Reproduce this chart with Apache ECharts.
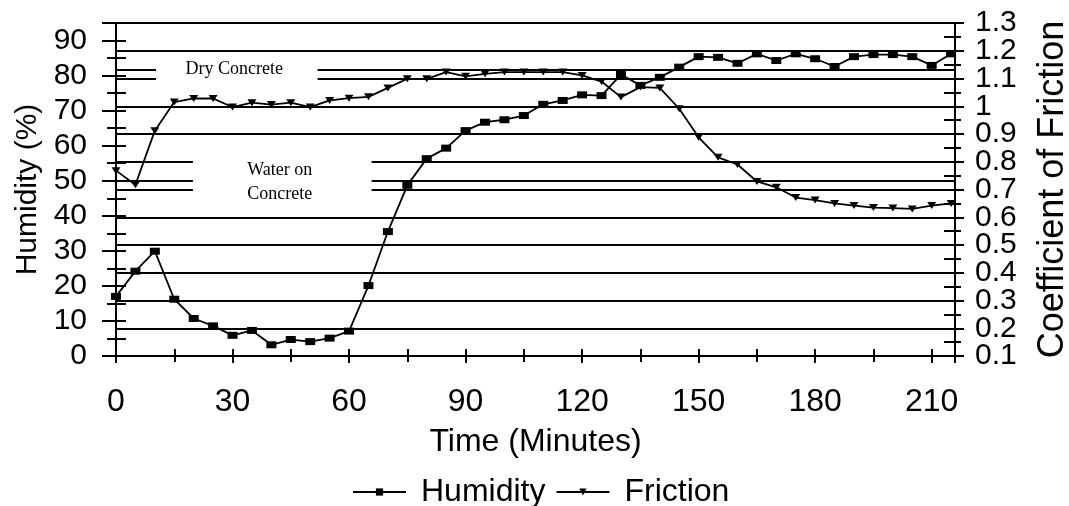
<!DOCTYPE html>
<html>
<head>
<meta charset="utf-8">
<script src="https://cdn.jsdelivr.net/npm/echarts@6/dist/echarts.min.js"></script>
<style>
html,body{margin:0;padding:0;background:#fff;}
#chart{width:1069px;height:506px;}
</style>
</head>
<body>
<div id="chart"></div>
<script>
// ---- data ----
const times = [0,5,10,15,20,25,30,35,40,45,50,55,60,65,70,75,80,85,90,95,100,105,110,115,120,125,130,135,140,145,150,155,160,165,170,175,180,185,190,195,200,205,210,215];
const humidity = [17.0,24.2,29.9,16.2,10.7,8.6,5.9,7.3,3.2,4.7,4.1,5.1,7.1,20.1,35.5,48.7,56.3,59.3,64.3,66.7,67.4,68.6,71.8,72.9,74.5,74.3,80.3,77.2,79.5,82.4,85.4,85.2,83.5,86.2,84.3,86.2,84.8,82.6,85.4,86.0,86.0,85.4,82.9,86.2];
const friction = [0.768,0.717,0.912,1.015,1.028,1.028,0.997,1.013,1.006,1.013,0.997,1.021,1.029,1.034,1.066,1.099,1.099,1.123,1.108,1.117,1.123,1.123,1.123,1.123,1.111,1.089,1.033,1.069,1.066,0.991,0.888,0.816,0.790,0.729,0.708,0.671,0.662,0.650,0.642,0.635,0.633,0.630,0.642,0.650];
const seriesNames = ['Humidity','Friction'];
const xTitle = 'Time (Minutes)';
const yLeftTitle = 'Humidity (%)';
const yRightTitle = 'Coefficient of Friction';
const rightEdgeNeighbours = [0.2, 1.2];      // right-axis labels drawn by an overlay axis
const refLevels = [1.1325, 0.735];           // extra reference lines (friction scale)
const annotations = ['Dry Concrete', 'Water on\nConcrete'];

const SANS = '"Liberation Sans", Arial, sans-serif';
const SERIF = '"Liberation Serif", "Times New Roman", serif';
const BLACK = '#000';

const chart = echarts.init(document.getElementById('chart'), null, {renderer:'canvas'});

const tickStyle = {color: BLACK, width: 2};
const fmtFric = v => String(parseFloat(v.toFixed(1)));
const isNeighbour = v => rightEdgeNeighbours.some(n => Math.abs(n - v) < 1e-6);

const option = {
  animation: false,
  backgroundColor: '#fff',
  grid: {left: 116, right: 114, top: 23, bottom: 150, containLabel: false, outerBoundsMode: 'none'},
  legend: {
    data: seriesNames,
    top: 471, left: 347,
    itemWidth: 53, itemHeight: 9, itemGap: 10, padding: 5,
    textStyle: {fontFamily: SANS, fontSize: 32, color: BLACK, padding: [0,0,0,10]}
  },
  xAxis: [
    {
      type: 'value', min: 0, max: 216, interval: 30, position: 'bottom',
      axisLine: {lineStyle: {color: BLACK, width: 2}},
      axisTick: {length: 7, lineStyle: tickStyle},
      minorTick: {show: true, splitNumber: 2, length: 6, lineStyle: tickStyle},
      axisLabel: {formatter: v => (v % 30 === 0 ? String(v) : ''), margin: 30, fontSize: 32, color: BLACK, fontFamily: SANS},
      splitLine: {show: false},
      name: xTitle, nameLocation: 'middle', nameGap: 70,
      nameTextStyle: {fontFamily: SANS, fontSize: 32, color: BLACK}
    },
    {
      type: 'value', min: 0, max: 216, interval: 15, position: 'bottom',
      axisLine: {show: false},
      axisTick: {inside: true, length: 7, lineStyle: tickStyle},
      axisLabel: {show: false}, splitLine: {show: false}
    }
  ],
  yAxis: [
    {
      type: 'value', min: 0, max: 95, interval: 10, position: 'left',
      axisLine: {show: true, lineStyle: {color: BLACK, width: 2}},
      axisTick: {show: true, length: 14, lineStyle: tickStyle},
      minorTick: {show: true, splitNumber: 2, length: 9, lineStyle: tickStyle},
      axisLabel: {formatter: v => (v % 10 === 0 ? String(v) : ''), margin: 29, fontSize: 30, lineHeight: 24, color: BLACK, fontFamily: SANS,
                  showMinLabel: true, hideOverlap: false},
      splitLine: {show: false},
      name: yLeftTitle, nameLocation: 'middle', nameRotate: 90, nameGap: 72,
      nameTextStyle: {fontFamily: SANS, fontSize: 30, color: BLACK}
    },
    {
      type: 'value', min: 0, max: 95, interval: 5, position: 'left',
      axisLine: {show: false},
      axisTick: {show: true, inside: true, length: 10, lineStyle: tickStyle},
      axisLabel: {show: false}, splitLine: {show: false}
    },
    {
      type: 'value', min: 0.1, max: 1.3, interval: 0.1, position: 'right',
      axisLine: {show: true, lineStyle: {color: BLACK, width: 2}},
      axisTick: {show: true, length: 9, lineStyle: tickStyle},
      minorTick: {show: true, splitNumber: 2, length: 6, lineStyle: tickStyle},
      axisLabel: {
        formatter: v => (isNeighbour(v) ? '' : fmtFric(v)),
        fontSize: 30, lineHeight: 22, color: BLACK, fontFamily: SANS,
        margin: 20, showMinLabel: true, showMaxLabel: true, hideOverlap: false
      },
      splitLine: {show: true, lineStyle: {color: BLACK, width: 2}},
      name: yRightTitle, nameLocation: 'middle', nameRotate: 90, nameGap: 80,
      nameTextStyle: {fontFamily: SANS, fontSize: 36, color: BLACK}
    },
    {
      type: 'value', min: 0.1, max: 1.3, interval: 0.05, position: 'right',
      axisLine: {show: false},
      axisTick: {show: true, inside: true, length: 11, lineStyle: tickStyle},
      axisLabel: {show: false}, splitLine: {show: false}
    },
    {
      type: 'value', min: 0.1, max: 1.3, interval: 0.1, position: 'right',
      axisLine: {show: false}, axisTick: {show: false}, splitLine: {show: false},
      axisLabel: {
        formatter: v => (isNeighbour(v) ? fmtFric(v) : ''),
        fontSize: 30, lineHeight: 22, color: BLACK, fontFamily: SANS,
        margin: 20, showMinLabel: false, showMaxLabel: false, hideOverlap: false
      }
    }
  ],
  series: [
    {
      name: seriesNames[0], type: 'line', xAxisIndex: 0, yAxisIndex: 0,
      data: times.map((t, i) => [t, humidity[i]]),
      symbol: 'rect', symbolSize: [10, 7],
      itemStyle: {color: BLACK}, lineStyle: {color: BLACK, width: 1.8},
      z: 3
    },
    {
      name: seriesNames[1], type: 'line', xAxisIndex: 0, yAxisIndex: 2,
      data: times.map((t, i) => [t, friction[i]]),
      symbol: 'triangle', symbolRotate: 180, symbolSize: [9, 7],
      itemStyle: {color: BLACK}, lineStyle: {color: BLACK, width: 1.8},
      z: 3,
      markLine: {
        z: 0, silent: true, symbol: ['none', 'none'], label: {show: false},
        lineStyle: {color: BLACK, width: 2, type: 'solid'},
        emphasis: {disabled: true},
        data: refLevels.map(v => ({yAxis: v}))
      },
      markArea: {
        z: 1, silent: true,
        itemStyle: {color: '#fff'},
        label: {show: true, position: 'inside', fontFamily: SERIF, fontSize: 18, color: BLACK, lineHeight: 24},
        emphasis: {disabled: true},
        data: [
          [{name: annotations[0], xAxis: 10.3, yAxis: 1.18, label: {offset: [-2.5, -6]}}, {xAxis: 51.9, yAxis: 1.04}],
          [{name: annotations[1], xAxis: 19.8, yAxis: 0.86, label: {offset: [-2.5, 7]}}, {xAxis: 65.8, yAxis: 0.64}]
        ]
      }
    }
  ]
};
chart.setOption(option);
</script>
</body>
</html>
